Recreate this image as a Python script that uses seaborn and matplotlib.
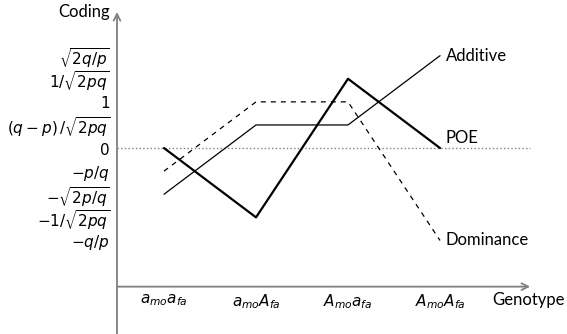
import numpy as np
import pandas as pd
import matplotlib
matplotlib.use("Agg")
import matplotlib.pyplot as plt
import seaborn as sns

# genotype positions and labels
genotypes = [1, 2, 3, 4]
genotype_labels = [r'$a_{mo}a_{fa}$', r'$a_{mo}A_{fa}$', r'$A_{mo}a_{fa}$', r'$A_{mo}A_{fa}$']

# coding levels on the y axis (equally spaced symbolic values)
code_levels = [4, 3, 2, 1, 0, -1, -2, -3, -4]
code_labels = [r'$\sqrt{2q/p}$', r'$1/\sqrt{2pq}$', r'$1$', r'$(q-p)\,/\sqrt{2pq}$', r'$0$',
               r'$-p/q$', r'$-\sqrt{2p/q}$', r'$-1/\sqrt{2pq}$', r'$-q/p$']

# coding of each genotype, in code_levels units
additive = [-2, 1, 1, 4]
poe = [0, -3, 3, 0]
dominance = [-1, 2, 2, -4]

df = pd.DataFrame({
    'genotype': genotypes * 3,
    'coding': additive + poe + dominance,
    'model': ['Additive'] * 4 + ['POE'] * 4 + ['Dominance'] * 4,
})

sns.set_theme(style="white")
plt.rcParams['font.family'] = ['Lato', 'DejaVu Sans']
plt.rcParams['mathtext.fontset'] = 'dejavusans'
plt.rcParams['text.color'] = 'black'
plt.rcParams['xtick.color'] = 'black'
plt.rcParams['ytick.color'] = 'black'

fig = plt.figure(figsize=(5.67, 3.34), dpi=100)
ax = fig.add_axes([117 / 567, 0, 450 / 567, 1])

x0, x1 = 0.489, 5.38
y0, y1 = -8.05, 6.41
x_axis_y = -6
x_end, y_end = 4.98, 5.89
ax.set_xlim(x0, x1)
ax.set_ylim(y0, y1)

# zero reference line
ax.hlines(0, x0, x_end, colors='gray', linestyles=':', lw=1)

styles = {'Additive': dict(lw=0.9, ls='-'),
          'POE': dict(lw=1.6, ls='-'),
          'Dominance': dict(lw=0.9, ls=(0, (4, 4)))}
for name, st in styles.items():
    sub = df[df['model'] == name]
    sns.lineplot(data=sub, x='genotype', y='coding', ax=ax, color='black',
                 linewidth=st['lw'], linestyle=st['ls'], legend=False)

# series labels at the right end
ax.text(4.06, additive[-1], 'Additive', ha='left', va='center', fontsize=12)
ax.text(4.06, poe[-1] + 0.45, 'POE', ha='left', va='center', fontsize=12)
ax.text(4.06, dominance[-1], 'Dominance', ha='left', va='center', fontsize=12)

# axes with arrows
for s in ax.spines.values():
    s.set_visible(False)
ax.spines['bottom'].set_position(('data', x_axis_y))
ax.annotate('', xy=(x0, y_end), xytext=(x0, y0),
            arrowprops=dict(arrowstyle='->', color='gray', lw=1.3, shrinkA=0, shrinkB=0))
ax.annotate('', xy=(x_end, x_axis_y), xytext=(x0, x_axis_y),
            arrowprops=dict(arrowstyle='->', color='gray', lw=1.3, shrinkA=0, shrinkB=0))
ax.annotate('Coding', xy=(x0, y_end), xytext=(-5, 0), textcoords='offset points',
            ha='right', va='center', fontsize=12)
ax.annotate('Genotype', xy=(5.355, x_axis_y), xytext=(0, -4), textcoords='offset points',
            ha='right', va='top', fontsize=12)

ax.set_xticks(genotypes)
ax.set_xticklabels(genotype_labels, fontsize=11)
ax.set_yticks(code_levels)
ax.set_yticklabels(code_labels, fontsize=11)
ax.tick_params(axis='both', length=0, pad=4)
ax.tick_params(axis='y', pad=5)
ax.set_xlabel('')
ax.set_ylabel('')
ax.grid(False)

fig.savefig('out.png', dpi=100)
